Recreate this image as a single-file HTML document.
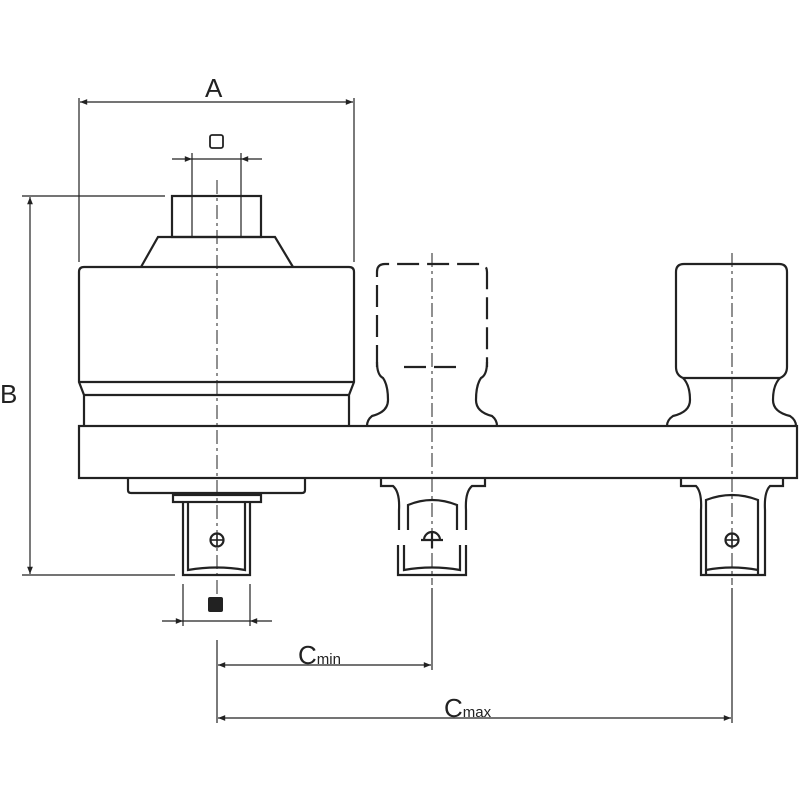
<!DOCTYPE html>
<html><head><style>body{margin:0;background:#fff}svg{display:block}</style></head><body>
<svg width="800" height="800" viewBox="0 0 800 800" xmlns="http://www.w3.org/2000/svg" font-family="Liberation Sans, sans-serif">
<defs><marker id="a" viewBox="0 0 10 10" refX="10" refY="5" markerWidth="8" markerHeight="6" orient="auto-start-reverse"><path d="M0,1L10,5L0,9z" fill="#222"/></marker></defs>
<g stroke="#222" fill="none">
<g stroke-width="1.2">
<line x1="79" y1="98" x2="79" y2="262"/><line x1="354" y1="98" x2="354" y2="262"/>
<line x1="80" y1="102" x2="353" y2="102" marker-start="url(#a)" marker-end="url(#a)"/>
<line x1="172" y1="159" x2="192" y2="159" marker-end="url(#a)"/><line x1="262" y1="159" x2="241" y2="159" marker-end="url(#a)"/>
<line x1="192" y1="159" x2="241" y2="159"/>
<line x1="192" y1="153" x2="192" y2="236"/><line x1="241" y1="153" x2="241" y2="236"/>
<line x1="22" y1="196" x2="165" y2="196"/><line x1="22" y1="575" x2="175" y2="575"/>
<line x1="30" y1="197" x2="30" y2="574" marker-start="url(#a)" marker-end="url(#a)"/>
<line x1="183" y1="584" x2="183" y2="626"/><line x1="250" y1="584" x2="250" y2="626"/>
<line x1="162" y1="621" x2="183" y2="621" marker-end="url(#a)"/><line x1="272" y1="621" x2="250" y2="621" marker-end="url(#a)"/>
<line x1="183" y1="621" x2="250" y2="621"/>
<line x1="218" y1="665" x2="431" y2="665" marker-start="url(#a)" marker-end="url(#a)"/>
<line x1="218" y1="718" x2="731" y2="718" marker-start="url(#a)" marker-end="url(#a)"/>
<line x1="432" y1="588" x2="432" y2="670"/><line x1="732" y1="588" x2="732" y2="723"/>
<line x1="217" y1="640" x2="217" y2="723"/>
</g>
<g stroke-width="1" stroke-dasharray="14,4,3,4">
<line x1="217" y1="180" x2="217" y2="600"/>
<line x1="432" y1="253" x2="432" y2="585"/>
<line x1="732" y1="253" x2="732" y2="585"/>
</g>
<g stroke-width="2.2">
<rect x="172" y="196" width="89" height="41"/>
<path d="M141,267 L158,237 L275,237 L293,267"/>
<path d="M84,426 V395 L79,382 V272 Q79,267 84,267 H349 Q354,267 354,272 V382 L349,395 V426"/>
<line x1="79" y1="382" x2="354" y2="382"/><line x1="84" y1="395" x2="349" y2="395"/>
<rect x="79" y="426" width="718" height="52"/>
<path d="M128,478 V490 Q128,493 131,493 H302 Q305,493 305,490 V478"/>
<rect x="173" y="495" width="88" height="7"/>
<path d="M183,502 V575 H250 V502 M188,502 V570 Q217,565 245,570 V502"/>
<circle cx="217" cy="540" r="6.5"/>
<path d="M676,367 V272 Q676,264 684,264 H779 Q787,264 787,272 V367 Q787,375 780,378 Q773,385 773,400 Q773,412 790,416 Q796,420 796,426 M676,367 Q676,375 683,378 Q690,385 690,400 Q690,412 673,416 Q667,420 667,426"/>
<line x1="683" y1="378" x2="780" y2="378"/>
<path d="M681,478 V486 H696 Q702,492 701,510 V575 H765 V510 Q764,492 770,486 H783 V478"/>
<path d="M706,575 V500 Q732,490 758,500 V575 M706,570 Q732,565 758,570"/>
<circle cx="732" cy="540" r="6.5"/>
<g stroke-dasharray="22,8">
<path d="M377,367 V272 Q377,264 385,264 H479 Q487,264 487,272 V367"/>
<line x1="404" y1="367" x2="462" y2="367"/>
</g>
<path d="M377,362 Q377,375 383,378 Q388,385 388,400 Q388,412 372,416 Q367,420 367,426 M487,362 Q487,375 481,378 Q476,385 476,400 Q476,412 492,416 Q497,420 497,426"/>
<path d="M381,478 V486 H393 Q400,492 399,510 V530 M466,530 V510 Q465,492 472,486 H485 V478 M408,530 V505 Q432,495 457,505 V530"/>
<path d="M398,545 V575 H466 V545 M404,545 V570 Q432,565 460,570 V545"/>
<path d="M424,540 A8,8 0 0 1 440,540 M421,540 H443 M432,532 V548"/>
</g>
<g stroke-width="1.6"><line x1="210" y1="540" x2="224" y2="540"/><line x1="217" y1="533" x2="217" y2="547"/>
<line x1="725" y1="540" x2="739" y2="540"/><line x1="732" y1="533" x2="732" y2="547"/></g>
<rect x="210" y="135" width="13" height="13" rx="2" stroke-width="1.8"/>
</g>
<rect x="208" y="597" width="15" height="15" rx="2" fill="#222"/>
<g fill="#222" font-size="26">
<text x="205" y="97">A</text>
<text x="0" y="403">B</text>
<text x="298" y="664">C<tspan font-size="15">min</tspan></text>
<text x="444" y="717">C<tspan font-size="15">max</tspan></text>
</g>
</svg>
</body></html>
